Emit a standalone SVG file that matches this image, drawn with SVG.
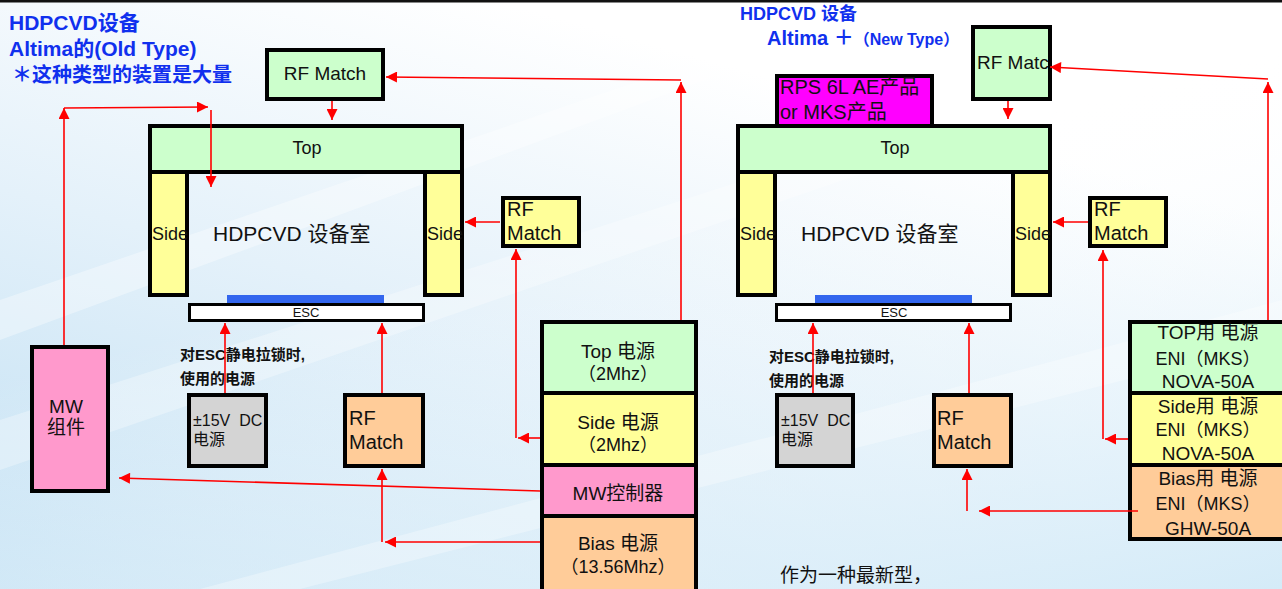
<svg xmlns="http://www.w3.org/2000/svg" width="1282" height="589" viewBox="0 0 1282 589">
<defs>
<linearGradient id="bgA" x1="0" y1="1" x2="0.55" y2="0.1">
<stop offset="0" stop-color="#bfdff3"/>
<stop offset="0.55" stop-color="#e4f1fa"/>
<stop offset="1" stop-color="#ffffff"/>
</linearGradient>
<linearGradient id="bgB" x1="1" y1="1" x2="0.6" y2="0.3">
<stop offset="0" stop-color="#d4ebf8" stop-opacity="1"/>
<stop offset="1" stop-color="#ffffff" stop-opacity="0"/>
</linearGradient>
<marker id="ah" viewBox="0 0 10 10" refX="10" refY="5" markerWidth="13" markerHeight="11" markerUnits="userSpaceOnUse" orient="auto">
<path d="M0,0 L10,5 L0,10 z" fill="#ff0000"/>
</marker>
<style>
.box{stroke:#000;stroke-width:4}
.g{fill:#ccffcc}.y{fill:#ffff99}.o{fill:#ffcc99}.p{fill:#ff99cc}.m{fill:#ff00ff}.gr{fill:#d4d4d4}
.t{font-family:"Liberation Sans","Noto Sans CJK SC",sans-serif;fill:#111}
.c{text-anchor:middle}
.ttl{font-family:"Liberation Sans","Noto Sans CJK SC",sans-serif;font-weight:bold;fill:#1030ee}
.cn{fill:none;stroke:#ff0000;stroke-width:1.6}
.a{marker-end:url(#ah)}
</style>
</defs>
<g id="background">
<rect x="0" y="0" width="1282" height="589" fill="url(#bgA)"/>
<rect x="0" y="0" width="1282" height="589" fill="url(#bgB)"/>
<path d="M0,300 L700,60 L760,60 L0,340 z" fill="#ffffff" opacity="0.35"/>
<path d="M0,420 L900,130 L960,140 L0,470 z" fill="#ffffff" opacity="0.3"/>
<path d="M200,589 L1282,300 L1282,340 L300,589 z" fill="#ffffff" opacity="0.3"/>
<rect x="0" y="0" width="1282" height="2.5" fill="#111"/>
</g>
<g id="title-left">
<text class="ttl" x="9" y="30" font-size="21">HDPCVD设备</text>
<text class="ttl" x="9" y="56" font-size="21">Altima的(Old Type)</text>
<text class="ttl" x="12" y="82" font-size="20">＊这种类型的装置是大量</text>
</g>
<g id="rfmatch-top-left">
<rect class="box g" x="267" y="50" width="116" height="49"/>
<text class="t c" x="325" y="80" font-size="19">RF Match</text>
</g>
<g id="top-left">
<rect class="box g" x="150" y="126" width="312" height="46"/>
<text class="t c" x="307" y="154" font-size="18">Top</text>
</g>
<g id="side-left-1">
<rect class="box y" x="150" y="172" width="37" height="123"/>
<text class="t" x="152" y="240" font-size="18">Side</text>
</g>
<g id="side-left-2">
<rect class="box y" x="425" y="172" width="37" height="123"/>
<text class="t" x="427" y="240" font-size="18">Side</text>
</g>
<g id="chamber-left">
<text class="t" x="213" y="241" font-size="21">HDPCVD 设备室</text>
</g>
<g id="esc-left">
<rect x="227" y="295" width="157" height="8" fill="#3366ee"/>
<rect x="189.5" y="304.5" width="234" height="16" fill="#ffffff" stroke="#000" stroke-width="3"/>
<text class="t c" x="306" y="317" font-size="13">ESC</text>
</g>
<g id="esc-note-left">
<text class="t" x="180" y="360" font-size="15" font-weight="bold">对ESC静电拉锁时,</text>
<text class="t" x="180" y="384" font-size="15" font-weight="bold">使用的电源</text>
</g>
<g id="dc-left">
<rect class="box gr" x="189" y="395" width="77" height="71"/>
<text class="t" x="193" y="426" font-size="16">±15V&#160;&#160;DC</text>
<text class="t" x="193" y="445" font-size="16">电源</text>
</g>
<g id="rfmatch-bias-left">
<rect class="box o" x="345" y="395" width="78" height="71"/>
<text class="t" x="349" y="425" font-size="20">RF</text>
<text class="t" x="349" y="449" font-size="20">Match</text>
</g>
<g id="rfmatch-side-left">
<rect class="box y" x="503" y="198" width="76" height="48"/>
<text class="t" x="507" y="216" font-size="20">RF</text>
<text class="t" x="507" y="240" font-size="20">Match</text>
</g>
<g id="mw-unit">
<rect class="box p" x="32" y="347" width="76" height="144"/>
<text class="t c" x="66" y="413" font-size="19">MW</text>
<text class="t c" x="66" y="434" font-size="19">组件</text>
</g>
<g id="top-power-left">
<rect class="box g" x="542" y="322" width="154" height="71"/>
<text class="t c" x="618" y="358" font-size="19">Top 电源</text>
<text class="t c" x="618" y="380" font-size="18">（2Mhz）</text>
</g>
<g id="side-power-left">
<rect class="box y" x="542" y="393" width="154" height="72"/>
<text class="t c" x="618" y="429" font-size="19">Side 电源</text>
<text class="t c" x="618" y="451" font-size="18">（2Mhz）</text>
</g>
<g id="mw-controller">
<rect class="box p" x="542" y="465" width="154" height="51"/>
<text class="t c" x="618" y="500" font-size="19">MW控制器</text>
</g>
<g id="bias-power-left">
<rect class="box o" x="542" y="516" width="154" height="80"/>
<text class="t c" x="618" y="550" font-size="19">Bias 电源</text>
<text class="t c" x="618" y="573" font-size="18">（13.56Mhz）</text>
</g>
<g id="title-right">
<text class="ttl" x="740" y="20" font-size="18">HDPCVD 设备</text>
<text class="ttl" x="767" y="45" font-size="20">Altima ＋<tspan font-size="16">（New Type）</tspan></text>
</g>
<g id="rps">
<rect class="box m" x="777" y="76" width="155" height="50"/>
<text class="t" x="780" y="94" font-size="20">RPS 6L AE产品</text>
<text class="t" x="780" y="119" font-size="20">or MKS产品</text>
</g>
<g id="rfmatch-top-right">
<rect class="box g" x="973" y="27" width="77" height="72"/>
<text class="t" x="977" y="69" font-size="19">RF Matc</text>
</g>
<g id="top-right">
<rect class="box g" x="738" y="126" width="312" height="46"/>
<text class="t c" x="895" y="154" font-size="18">Top</text>
</g>
<g id="side-right-1">
<rect class="box y" x="738" y="172" width="37" height="123"/>
<text class="t" x="740" y="240" font-size="18">Side</text>
</g>
<g id="side-right-2">
<rect class="box y" x="1013" y="172" width="37" height="123"/>
<text class="t" x="1015" y="240" font-size="18">Side</text>
</g>
<g id="chamber-right">
<text class="t" x="801" y="241" font-size="21">HDPCVD  设备室</text>
</g>
<g id="esc-right">
<rect x="815" y="295" width="157" height="8" fill="#3366ee"/>
<rect x="776.5" y="304.5" width="234" height="16" fill="#ffffff" stroke="#000" stroke-width="3"/>
<text class="t c" x="894" y="317" font-size="13">ESC</text>
</g>
<g id="esc-note-right">
<text class="t" x="769" y="362" font-size="15" font-weight="bold">对ESC静电拉锁时,</text>
<text class="t" x="769" y="386" font-size="15" font-weight="bold">使用的电源</text>
</g>
<g id="dc-right">
<rect class="box gr" x="777" y="395" width="76" height="71"/>
<text class="t" x="781" y="426" font-size="16">±15V&#160;&#160;DC</text>
<text class="t" x="781" y="445" font-size="16">电源</text>
</g>
<g id="rfmatch-bias-right">
<rect class="box o" x="934" y="395" width="77" height="71"/>
<text class="t" x="937" y="425" font-size="20">RF</text>
<text class="t" x="937" y="449" font-size="20">Match</text>
</g>
<g id="rfmatch-side-right">
<rect class="box y" x="1090" y="198" width="76" height="48"/>
<text class="t" x="1094" y="216" font-size="20">RF</text>
<text class="t" x="1094" y="240" font-size="20">Match</text>
</g>
<g id="top-power-right">
<rect class="box g" x="1130" y="322" width="160" height="71"/>
<text class="t c" x="1208" y="339" font-size="19">TOP用 电源</text>
<text class="t c" x="1208" y="365" font-size="18">ENI（MKS）</text>
<text class="t c" x="1208" y="388" font-size="19">NOVA-50A</text>
</g>
<g id="side-power-right">
<rect class="box y" x="1130" y="393" width="160" height="72"/>
<text class="t c" x="1208" y="413" font-size="19">Side用 电源</text>
<text class="t c" x="1208" y="436" font-size="18">ENI（MKS）</text>
<text class="t c" x="1208" y="460" font-size="19">NOVA-50A</text>
</g>
<g id="bias-power-right">
<rect class="box o" x="1130" y="465" width="160" height="74"/>
<text class="t c" x="1208" y="485" font-size="19">Bias用 电源</text>
<text class="t c" x="1208" y="510" font-size="18">ENI（MKS）</text>
<text class="t c" x="1208" y="535" font-size="19">GHW-50A</text>
</g>
<g id="note-bottom">
<text class="t" x="780" y="582" font-size="19">作为一种最新型，</text>
</g>
<g id="connectors">
<path class="cn a" d="M332,101 L332,120"/>
<path class="cn a" d="M681,320 L681,82"/>
<path class="cn a" d="M681,80 L386,77"/>
<path class="cn a" d="M540,438 L518,438"/>
<path class="cn a" d="M516,438 L516,249"/>
<path class="cn a" d="M500,222 L465,222"/>
<path class="cn a" d="M540,491 L119,478"/>
<path class="cn a" d="M540,542 L385,542"/>
<path class="cn a" d="M382,542 L382,469"/>
<path class="cn a" d="M382,393 L382,323"/>
<path class="cn a" d="M225,393 L225,323"/>
<path class="cn a" d="M64,345 L64,108"/>
<path class="cn a" d="M64,108 L208,107"/>
<path class="cn a" d="M211,110 L211,187"/>
<path class="cn a" d="M1008,101 L1008,119"/>
<path class="cn a" d="M1268,320 L1268,82"/>
<path class="cn a" d="M1268,79 L1050,67"/>
<path class="cn a" d="M1128,439 L1105,439"/>
<path class="cn a" d="M1103,439 L1103,250"/>
<path class="cn a" d="M1088,222 L1053,222"/>
<path class="cn a" d="M1138,511 L979,511"/>
<path class="cn a" d="M967,511 L967,469"/>
<path class="cn a" d="M969,393 L969,323"/>
<path class="cn a" d="M813,393 L813,323"/>
</g>
</svg>
